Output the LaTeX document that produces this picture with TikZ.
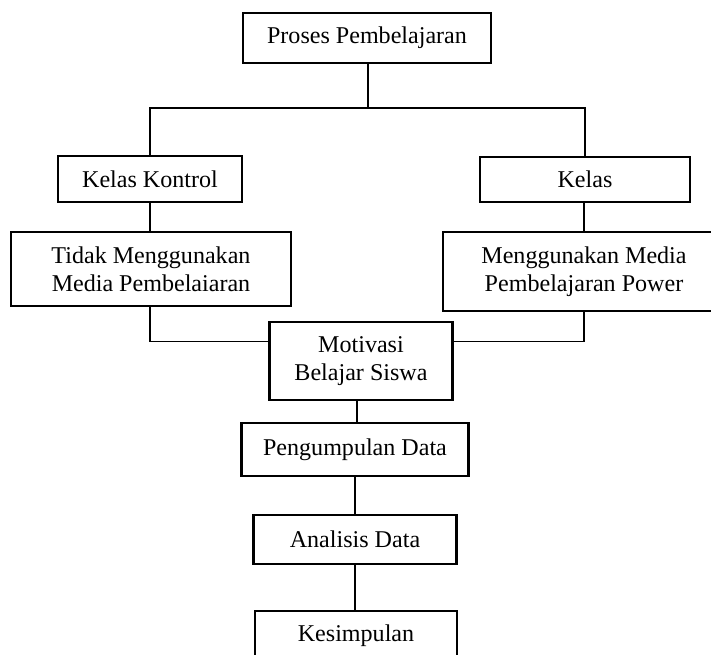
\documentclass[tikz,border=0pt]{standalone}
\usepackage{fontspec}
\setmainfont{Liberation Serif}
\usetikzlibrary{calc}

\tikzset{
    stage/.style={draw, line width=1.5pt, align=center, inner sep=0pt,
        font=\fontsize{13.7}{16}\selectfont},
    link/.style={draw, line width=0.7pt}
}

\begin{document}
\begin{tikzpicture}[x=0.02cm, y=-0.02cm]
    % Frame of the picture
    \clip (0,0) rectangle (711,654);
    \useasboundingbox (0,0) rectangle (711,654);
    % Boxes
    \node[stage, minimum width=4.96cm, minimum height=1.0cm] (proses) at (367,38) {Proses Pembelajaran};
    \node[stage, minimum width=3.68cm, minimum height=0.92cm] (kontrol) at (150,179) {Kelas Kontrol};
    \node[stage, minimum width=4.2cm, minimum height=0.9cm] (kelas) at (585,179.5) {Kelas};
    \node[stage, minimum width=5.6cm, minimum height=1.48cm] (tidak) at (151,269) {Tidak Menggunakan\\Media Pembelaiaran};
    \node[stage, minimum width=5.64cm, minimum height=1.58cm] (media) at (584,271.5) {Menggunakan Media\\Pembelajaran Power};
    \node[stage, minimum width=3.66cm, minimum height=1.56cm] (motivasi) at (361,361) {Motivasi\\Belajar Siswa};
    \node[stage, minimum width=4.54cm, minimum height=1.06cm] (kumpul) at (355,449.5) {Pengumpulan Data};
    \node[stage, minimum width=4.06cm, minimum height=0.98cm] (analisis) at (355,539.5) {Analisis Data};
    \node[stage, minimum width=4.04cm, minimum height=1.0cm] (simpul) at (356,636) {Kesimpulan};
    % Connectors
    \coordinate (split) at (368,108);
    \draw[link] (proses.south -| split) -- (split);
    \draw[link] (kontrol.north) |- (split) -| (kelas.north);
    \draw[link] (kontrol.south) -- (tidak.north -| kontrol.south);
    \draw[link] (kelas.south -| media.north) -- (media.north);
    \draw[link] (tidak.south -| kontrol.south) |- (motivasi.168);
    \draw[link] (media.south) |- (motivasi.12);
    \draw[link] (motivasi.south -| 357,0) -- (kumpul.north -| 357,0);
    \draw[link] (kumpul.south) -- (analisis.north);
    \draw[link] (analisis.south) -- (simpul.north -| analisis.south);
\end{tikzpicture}
\end{document}
